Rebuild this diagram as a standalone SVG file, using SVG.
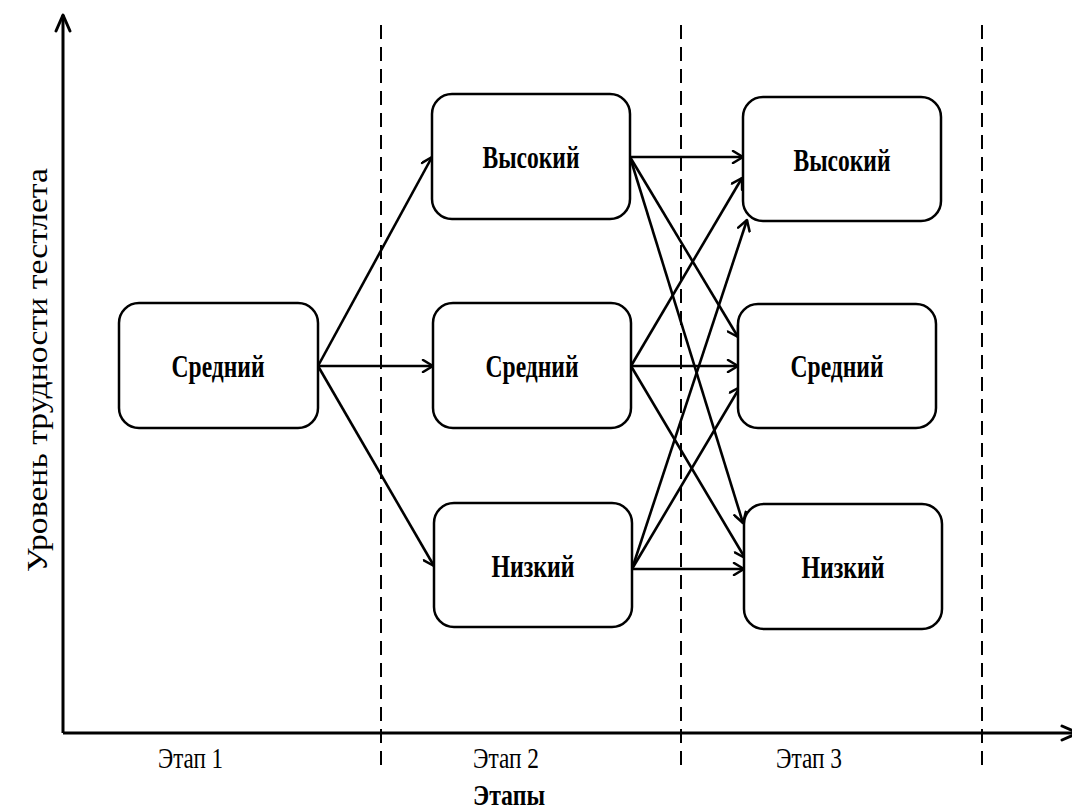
<svg xmlns="http://www.w3.org/2000/svg" width="1072" height="811" viewBox="0 0 1072 811">
<defs>
<marker id="arr" markerWidth="14" markerHeight="14" viewBox="0 0 14 14" refX="12" refY="7" orient="auto" markerUnits="userSpaceOnUse">
<path d="M2,1 L12,7 L2,13" fill="none" stroke="#000" stroke-width="2.5" stroke-linecap="round" stroke-linejoin="round"/>
</marker>
<marker id="axarr" markerWidth="20" markerHeight="20" viewBox="0 0 20 20" refX="18" refY="10" orient="auto" markerUnits="userSpaceOnUse">
<path d="M2,3 L18,10 L2,17" fill="none" stroke="#000" stroke-width="3" stroke-linecap="round" stroke-linejoin="round"/>
</marker>
</defs>
<style>
.box{fill:#fff;stroke:#000;stroke-width:2.5}
.lbl{font-family:"Liberation Serif","Times New Roman",serif;font-weight:bold;font-size:32px;text-anchor:middle;fill:#000}
.ax{font-family:"Liberation Serif","Times New Roman",serif;font-size:29px;fill:#000}
.dash{stroke:#000;stroke-width:2;stroke-dasharray:14 8;fill:none}
.con{stroke:#000;stroke-width:2.6;fill:none;marker-end:url(#arr)}
</style>
<rect width="1072" height="811" fill="#fff"/>
<g id="axes">
<line x1="63" y1="733" x2="63" y2="15" stroke="#000" stroke-width="3" marker-end="url(#axarr)"/>
<line x1="63" y1="733" x2="1078" y2="733" stroke="#000" stroke-width="3" marker-end="url(#axarr)"/>
<line class="dash" x1="381" y1="25" x2="381" y2="768"/>
<line class="dash" x1="681" y1="25" x2="681" y2="768"/>
<line class="dash" x1="982" y1="25" x2="982" y2="768"/>
<text class="ax" x="158" y="768" textLength="65" lengthAdjust="spacingAndGlyphs">Этап 1</text>
<text class="ax" x="473" y="768" textLength="66" lengthAdjust="spacingAndGlyphs">Этап 2</text>
<text class="ax" x="776" y="768" textLength="66" lengthAdjust="spacingAndGlyphs">Этап 3</text>
<text class="ax" x="473" y="805" font-weight="bold" font-size="27" textLength="72" lengthAdjust="spacingAndGlyphs">Этапы</text>
<text class="ax" transform="translate(47,572) rotate(-90)" x="0" y="0" textLength="404" lengthAdjust="spacingAndGlyphs">Уровень трудности тестлета</text>
</g>
<g id="connectors">
<line class="con" x1="318" y1="366" x2="432" y2="157"/>
<line class="con" x1="318" y1="366" x2="433" y2="366"/>
<line class="con" x1="318" y1="366" x2="434" y2="566"/>
<line class="con" x1="630" y1="157" x2="743" y2="157"/>
<line class="con" x1="630" y1="157" x2="738" y2="337"/>
<line class="con" x1="630" y1="157" x2="743" y2="523"/>
<line class="con" x1="631" y1="366" x2="742" y2="178"/>
<line class="con" x1="631" y1="366" x2="738" y2="366"/>
<line class="con" x1="631" y1="366" x2="745" y2="558"/>
<line class="con" x1="632" y1="569" x2="747" y2="220"/>
<line class="con" x1="632" y1="569" x2="740" y2="387"/>
<line class="con" x1="632" y1="569" x2="744" y2="569"/>
</g>
<g id="n1-mid">
<rect class="box" x="119" y="303" width="199" height="125" rx="20"/>
<text class="lbl" x="218" y="377" textLength="93" lengthAdjust="spacingAndGlyphs">Средний</text>
</g>
<g id="n2-high">
<rect class="box" x="432" y="94" width="198" height="125" rx="20"/>
<text class="lbl" x="531" y="168" textLength="97" lengthAdjust="spacingAndGlyphs">Высокий</text>
</g>
<g id="n2-mid">
<rect class="box" x="433" y="303" width="198" height="125" rx="20"/>
<text class="lbl" x="532" y="377" textLength="93" lengthAdjust="spacingAndGlyphs">Средний</text>
</g>
<g id="n2-low">
<rect class="box" x="434" y="503" width="198" height="124" rx="20"/>
<text class="lbl" x="533" y="577" textLength="83" lengthAdjust="spacingAndGlyphs">Низкий</text>
</g>
<g id="n3-high">
<rect class="box" x="743" y="97" width="198" height="124" rx="20"/>
<text class="lbl" x="842" y="171" textLength="97" lengthAdjust="spacingAndGlyphs">Высокий</text>
</g>
<g id="n3-mid">
<rect class="box" x="738" y="304" width="198" height="124" rx="20"/>
<text class="lbl" x="837" y="377" textLength="93" lengthAdjust="spacingAndGlyphs">Средний</text>
</g>
<g id="n3-low">
<rect class="box" x="744" y="504" width="198" height="125" rx="20"/>
<text class="lbl" x="843" y="578" textLength="83" lengthAdjust="spacingAndGlyphs">Низкий</text>
</g>
</svg>
